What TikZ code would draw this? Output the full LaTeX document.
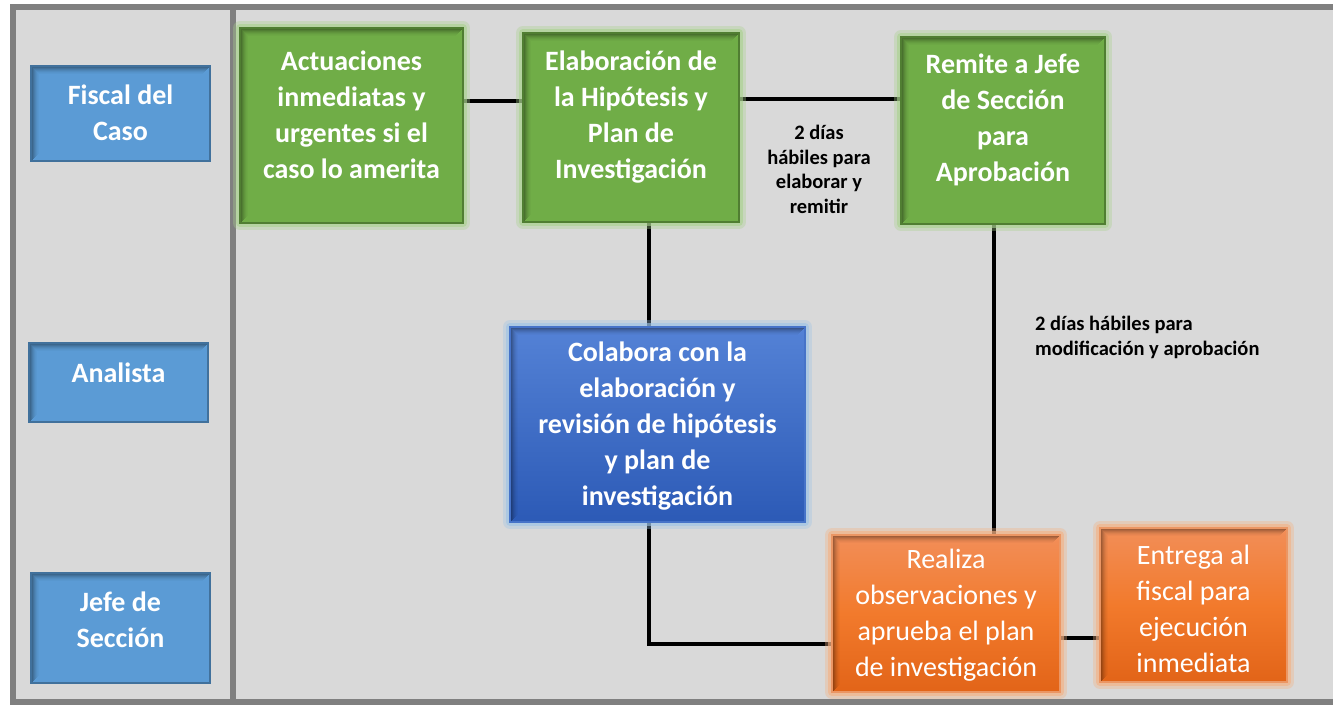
\documentclass[tikz,border=0pt]{standalone}
\usepackage{fontspec}
\setmainfont{Carlito}
\usetikzlibrary{calc}
\definecolor{panel}{HTML}{D9D9D9}
\definecolor{frame}{HTML}{808080}
\definecolor{laneblue}{HTML}{5B9BD5}
\definecolor{laneblueD}{HTML}{41719C}
\definecolor{gfill}{HTML}{70AD47}
\definecolor{gdraw}{HTML}{507E32}
\definecolor{gglow}{HTML}{A9D18E}
\definecolor{cbTop}{RGB}{84,130,214}
\definecolor{cbBot}{RGB}{44,90,182}
\definecolor{cbDraw}{RGB}{70,115,200}
\definecolor{cbGlow}{HTML}{9DC3E6}
\definecolor{orTop}{RGB}{242,142,88}
\definecolor{orMid}{RGB}{242,122,44}
\definecolor{orBot}{RGB}{226,100,24}
\definecolor{orDraw}{RGB}{235,150,100}
\definecolor{orGlow}{HTML}{F4B183}
\pgfdeclarelayer{bglayer}
\pgfdeclarelayer{connlayer}
\pgfsetlayers{bglayer,connlayer,main}
\tikzset{
  ishadow/.style={path picture={
    \foreach \k/\op in {0.5/0.42,1.5/0.34,2.5/0.27,3.5/0.2,4.5/0.14,5.5/0.09,6.5/0.05,7.5/0.025}{
      \draw[black,opacity=\op,line width=1pt]
        ([xshift=\k pt,yshift=\k pt]path picture bounding box.south west) --
        ([xshift=\k pt,yshift=-\k pt]path picture bounding box.north west) --
        ([xshift=-\k pt,yshift=-\k pt]path picture bounding box.north east);
    }}},
  box/.style={rectangle, inner sep=0pt, line width=1.5pt},
  lanebox/.style={box, fill=laneblue, draw=laneblueD, ishadow},
  gbox/.style={box, fill=gfill, draw=gdraw, ishadow,
    preaction={draw=gglow, fill=none, line width=14pt, opacity=.35, line join=round},
    preaction={draw=gglow, fill=none, line width=8pt, opacity=.6, line join=round}},
  cbox/.style={box, top color=cbTop, bottom color=cbBot, draw=cbDraw, ishadow,
    preaction={draw=cbGlow, fill=none, line width=14pt, opacity=.35, line join=round},
    preaction={draw=cbGlow, fill=none, line width=8pt, opacity=.6, line join=round}},
  obox/.style={box, top color=orTop, bottom color=orBot, middle color=orMid, draw=orDraw, ishadow,
    preaction={draw=orGlow, fill=none, line width=14pt, opacity=.35, line join=round},
    preaction={draw=orGlow, fill=none, line width=8pt, opacity=.6, line join=round}},
  btxt/.style={font=\bfseries\fontsize{28}{36}\selectfont, text=white, align=center, inner sep=0pt},
  rtxt/.style={font=\fontsize{28}{36}\selectfont, text=white, align=center, inner sep=0pt},
  ltxt/.style={font=\bfseries\fontsize{20.5}{24.5}\selectfont, text=black, inner sep=0pt},
  conn/.style={line width=3.4pt, black},
}
\begin{document}
\begin{tikzpicture}[x=1pt,y=-1pt]
\useasboundingbox (0,0) rectangle (1333,705);
\begin{pgfonlayer}{bglayer}
  \fill[white] (0,0) rectangle (1333,705);
  \fill[panel] (10,4) rectangle (1333,705);
  \draw[frame, line width=6pt] (1333,7) -- (13,7) -- (13,702) -- (1333,702);
  \draw[frame, line width=6pt] (233,4) -- (233,705);
\end{pgfonlayer}

% lane labels
\node[lanebox, minimum width=179pt, minimum height=95pt] (fiscal) at (120.5,113.5) {};
\node[btxt] (fiscalT) at (120.5,113) {Fiscal del\\Caso};
\node[lanebox, minimum width=179pt, minimum height=79pt] (analista) at (118.5,382.5) {};
\node[btxt] (analistaT) at (118.5,373) {Analista};
\node[lanebox, minimum width=179pt, minimum height=110pt] (jefe) at (120.5,628) {};
\node[btxt] (jefeT) at (120.5,620) {Jefe de\\Sección};

% green steps
\node[gbox, minimum width=223pt, minimum height=195pt] (act) at (351.5,125.5) {};
\node[btxt] (actT) at (351.5,115) {Actuaciones\\inmediatas y\\urgentes si el\\caso lo amerita};
\node[gbox, minimum width=216pt, minimum height=189pt] (elab) at (631,127.5) {};
\node[btxt] (elabT) at (631,117) {Elaboración de\\la Hipótesis y\\Plan de\\Investigación};
\node[gbox, minimum width=204pt, minimum height=187pt] (rem) at (1003,130.5) {};
\node[btxt] (remT) at (1003,120) {Remite a Jefe\\de Sección\\para\\Aprobación};

% blue step
\node[cbox, minimum width=295pt, minimum height=195pt] (colab) at (657.5,424.5) {};
\node[btxt] (colabT) at (657.5,426) {Colabora con la\\elaboración y\\revisión de hipótesis\\y plan de\\investigación};

% orange steps
\node[obox, minimum width=228pt, minimum height=157pt] (real) at (946,613.5) {};
\node[rtxt] (realT) at (946,615.5) {Realiza\\observaciones y\\aprueba el plan\\de investigación};
\node[obox, minimum width=187pt, minimum height=154pt] (entr) at (1193.5,605) {};
\node[rtxt] (entrT) at (1193.5,608.5) {Entrega al\\fiscal para\\ejecución\\inmediata};

% labels
\node[ltxt, align=center] (lbl1) at (819,169.5) {2 días\\hábiles para\\elaborar y\\remitir};
\node[ltxt, align=left, anchor=west] (lbl2) at (1035,337.5) {2 días hábiles para\\modificación y aprobación};

% connector guides
\coordinate (r1) at (0,101);
\coordinate (r2) at (0,99);
\coordinate (r3) at (0,644);
\coordinate (r4) at (0,638);
\coordinate (v1) at (649,0);
\coordinate (v2) at (994,0);

\begin{pgfonlayer}{connlayer}
  \draw[conn] (act.east |- r1) -- (elab.west |- r1);
  \draw[conn] (elab.east |- r2) -- (rem.west |- r2);
  \draw[conn] (elab.south -| v1) -- (colab.north -| v1);
  \draw[conn] (colab.south -| v1) |- (real.west |- r3);
  \draw[conn] (rem.south -| v2) -- (real.north -| v2);
  \draw[conn] (real.east |- r4) -- (entr.west |- r4);
\end{pgfonlayer}
\end{tikzpicture}
\end{document}
